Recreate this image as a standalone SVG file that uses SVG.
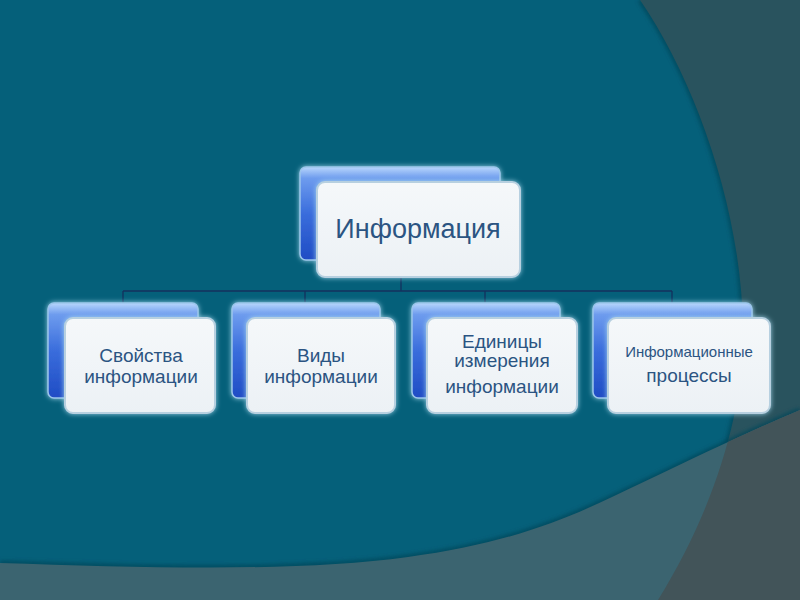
<svg xmlns="http://www.w3.org/2000/svg" width="800" height="600" viewBox="0 0 800 600">
<style>
.back{fill:url(#gBack);stroke:#9cc6ec;stroke-width:1.5;filter:url(#glow)}
.front{fill:url(#gFront);stroke:#b7d0e0;stroke-width:2;filter:url(#glow)}
.t{font-family:"Liberation Sans",Arial,sans-serif;fill:#2b5482;text-anchor:middle}
.c{stroke:#14305e;stroke-width:1.3;fill:none}
</style>
<defs>
<linearGradient id="gBack" x1="0" y1="0" x2="0" y2="1">
<stop offset="0" stop-color="#b8d6fc"/>
<stop offset="0.12" stop-color="#6e9cee"/>
<stop offset="0.5" stop-color="#3a6ddc"/>
<stop offset="1" stop-color="#1f4cc4"/>
</linearGradient>
<linearGradient id="gFront" x1="0" y1="0" x2="0" y2="1">
<stop offset="0" stop-color="#f5f8fa"/>
<stop offset="1" stop-color="#ecf1f5"/>
</linearGradient>
<filter id="glow" x="-10%" y="-15%" width="120%" height="130%">
<feDropShadow dx="0" dy="0" stdDeviation="2.5" flood-color="#a9d9ef" flood-opacity="0.9"/>
</filter>
<filter id="soft" x="-5%" y="-5%" width="110%" height="110%">
<feGaussianBlur stdDeviation="2"/>
</filter>
<clipPath id="bandClip">
<path d="M640,0 C695,80 742,210 743,330 C745,400 720,500 658,600 L800,600 L800,0 Z"/>
</clipPath>
</defs>
<g id="background">
<rect width="800" height="600" fill="#05607a"/>
<path d="M640,0 C695,80 742,210 743,330 C745,400 720,500 658,600" fill="none" stroke="#02465a" stroke-width="4" filter="url(#soft)"/>
<path d="M640,0 C695,80 742,210 743,330 C745,400 720,500 658,600 L800,600 L800,0 Z" fill="#29535e"/>
<path d="M0,563 C150,568 300,572 408,557 C500,545 560,522 612,497 C670,470 740,435 800,410" fill="none" stroke="#02465a" stroke-width="4" filter="url(#soft)"/>
<path d="M0,563 C150,568 300,572 408,557 C500,545 560,522 612,497 C670,470 740,435 800,410 L800,600 L0,600 Z" fill="#3b6470"/>
<path d="M0,563 C150,568 300,572 408,557 C500,545 560,522 612,497 C670,470 740,435 800,410 L800,600 L0,600 Z" fill="#425459" clip-path="url(#bandClip)"/>
</g>
<g id="connectors">
<line class="c" x1="401" y1="277" x2="401" y2="291"/>
<line class="c" x1="123" y1="291" x2="672" y2="291"/>
<line class="c" x1="123" y1="291" x2="123" y2="304"/>
<line class="c" x1="305" y1="291" x2="305" y2="304"/>
<line class="c" x1="485" y1="291" x2="485" y2="304"/>
<line class="c" x1="672" y1="291" x2="672" y2="304"/>
</g>
<g id="node-info">
<rect class="back" x="300" y="167" width="200" height="93" rx="6"/>
<rect class="front" x="317" y="182" width="203" height="95" rx="8"/>
<text class="t" x="418" y="238" font-size="27">Информация</text>
</g>
<g id="node-props">
<rect class="back" x="48" y="303" width="150" height="95" rx="6"/>
<rect class="front" x="65" y="318" width="150" height="95" rx="8"/>
<text class="t" x="141" y="362" font-size="19">Свойства</text>
<text class="t" x="141" y="383" font-size="19">информации</text>
</g>
<g id="node-types">
<rect class="back" x="232" y="303" width="148" height="95" rx="6"/>
<rect class="front" x="247" y="318" width="148" height="95" rx="8"/>
<text class="t" x="321" y="362" font-size="19">Виды</text>
<text class="t" x="321" y="383" font-size="19">информации</text>
</g>
<g id="node-units">
<rect class="back" x="412" y="303" width="148" height="95" rx="6"/>
<rect class="front" x="427" y="318" width="150" height="95" rx="8"/>
<text class="t" x="502" y="348" font-size="19">Единицы</text>
<text class="t" x="502" y="367" font-size="19">измерения</text>
<text class="t" x="502" y="393" font-size="19">информации</text>
</g>
<g id="node-processes">
<rect class="back" x="593" y="303" width="159" height="95" rx="6"/>
<rect class="front" x="608" y="318" width="162" height="95" rx="8"/>
<text class="t" x="689" y="357" font-size="15">Информационные</text>
<text class="t" x="689" y="382" font-size="19">процессы</text>
</g>
</svg>
